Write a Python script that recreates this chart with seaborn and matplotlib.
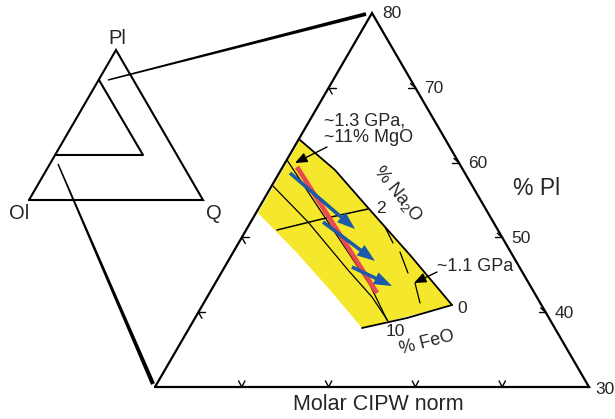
import numpy as np
import matplotlib
matplotlib.use("Agg")
import matplotlib.pyplot as plt
import seaborn as sns

sns.set_style("white")
plt.rcParams['font.family'] = ['Liberation Sans', 'DejaVu Sans']
plt.rcParams['mathtext.fontset'] = 'custom'
plt.rcParams['mathtext.rm'] = 'Liberation Sans'
plt.rcParams['mathtext.default'] = 'regular'

# --- schematic (pixel coordinates, y downward) ---
# small Ol-Pl-Q triangle and its inset
small_tri_x = [29, 116, 203, 29]
small_tri_y = [200, 50, 200, 200]
inset_x = [99, 143, 56]
inset_y = [80, 155, 155]
small_labels = ["Pl", "Ol", "Q"]
small_label_x = [117, 19, 214]
small_label_y = [39, 213, 213]

# big (expanded) triangle: bottom-left, bottom-right, apex
big_tri_x = [155, 589, 372, 155]
big_tri_y = [387, 387, 13, 387]

# ternary ticks (fraction along edge) and % Pl labels on right side
right_ticks = [0.2, 0.4, 0.6, 0.8]
pl_labels = ["70", "60", "50", "40"]
left_ticks = [0.2, 0.6, 0.8]
bottom_ticks = [0.2, 0.4, 0.6, 0.8]

# yellow field
field_x = [300, 335, 370, 410, 452, 362, 330, 297, 258]
field_y = [140, 170, 210, 255, 305, 328, 290, 253, 213]
top_edge_x = [300, 335, 370, 410, 452]
top_edge_y = [140, 170, 210, 255, 305]
bottom_edge_x = [362, 407, 452]
bottom_edge_y = [328, 318, 305]

# internal curves
curve1_x = [287, 320, 350, 370, 387]
curve1_y = [160, 210, 255, 285, 320]
curve2_x = [272, 308, 348, 372, 388]
curve2_y = [185, 222, 270, 297, 321]
na2o_x = [277, 322, 368]
na2o_y = [230, 219, 209]
dash_segments = [((385, 227), (393, 243)), ((400, 252), (408, 273)), ((415, 283), (420, 303))]

# red liquid line of descent and blue arrows
red_x = [297, 377]
red_y = [167, 293]
blue_tails = [(290, 173), (323, 222), (352, 267)]
blue_tips = [(355, 229), (375, 261), (392, 286)]

fig = plt.figure(figsize=(6.15, 4.19), dpi=100)
ax = fig.add_axes([0, 0, 1, 1])
ax.set_xlim(0, 615)
ax.set_ylim(419, 0)
ax.axis('off')


def taper(p0, p1, w0, w1):
    p0, p1 = np.array(p0, float), np.array(p1, float)
    d = p1 - p0
    n = np.array([-d[1], d[0]]) / np.hypot(*d)
    poly = np.array([p0 + n * w0 / 2, p1 + n * w1 / 2, p1 - n * w1 / 2, p0 - n * w0 / 2])
    ax.fill(poly[:, 0], poly[:, 1], color='black', lw=0)


# small triangle
ax.plot(small_tri_x, small_tri_y, color='black', lw=1.5, solid_joinstyle='miter')
ax.plot(inset_x, inset_y, color='black', lw=1.5)
for t, x, y in zip(small_labels, small_label_x, small_label_y):
    ax.text(x, y, t, fontsize=14.5, ha='center', va='center')

# connectors
taper((108, 80), (366, 14), 1.5, 3.8)
taper((58, 164), (153, 384), 1.5, 4.2)

# yellow field
ax.fill(field_x, field_y, color='#f5e82c', lw=0, zorder=1)
ax.plot(top_edge_x, top_edge_y, color='black', lw=1.3, zorder=3)
ax.plot(bottom_edge_x, bottom_edge_y, color='black', lw=1.3, zorder=3)
sns.lineplot(x=curve1_x, y=curve1_y, sort=False, color='black', lw=0.9, ax=ax, zorder=3)
sns.lineplot(x=curve2_x, y=curve2_y, sort=False, color='black', lw=0.9, ax=ax, zorder=3)
sns.lineplot(x=na2o_x, y=na2o_y, sort=False, color='black', lw=1.1, ax=ax, zorder=3)
for (a, b) in dash_segments:
    ax.plot([a[0], b[0]], [a[1], b[1]], color='black', lw=0.9, zorder=3)

# big triangle
ax.plot(big_tri_x, big_tri_y, color='black', lw=1.6, zorder=4, solid_joinstyle='miter')
bl = np.array([big_tri_x[0], big_tri_y[0]], float)
br = np.array([big_tri_x[1], big_tri_y[1]], float)
ap = np.array([big_tri_x[2], big_tri_y[2]], float)
L = 7
for f, lab in zip(right_ticks, pl_labels):
    p = ap + f * (br - ap)
    ax.plot([p[0], p[0] - L], [p[1], p[1]], color='black', lw=1, zorder=4)
    ax.plot([p[0], p[0] - 0.7 * L], [p[1], p[1] - 0.6 * L], color='black', lw=1, zorder=4)
    ax.text(p[0] + 9, p[1] + 1, lab, fontsize=12.5, ha='left', va='center')
for f in left_ticks:
    p = ap + f * (bl - ap)
    ax.plot([p[0], p[0] + L], [p[1], p[1]], color='black', lw=1, zorder=4)
    ax.plot([p[0], p[0] + 0.5 * L], [p[1], p[1] + 0.87 * L], color='black', lw=1, zorder=4)
for f in bottom_ticks:
    p = bl + f * (br - bl)
    ax.plot([p[0] - 0.45 * L, p[0], p[0] + 0.45 * L],
            [p[1] - 0.87 * L, p[1], p[1] - 0.87 * L], color='black', lw=1, zorder=4)
ax.text(ap[0] + 10, ap[1] + 1, "80", fontsize=12.5, ha='left', va='center')
ax.text(br[0] + 6, br[1] + 2, "30", fontsize=12.5, ha='left', va='center')

# red line and blue arrows
ax.plot(red_x, red_y, color='#ea4a4f', lw=3.4, solid_capstyle='butt', zorder=5)
for tail, tip in zip(blue_tails, blue_tips):
    ax.arrow(tail[0], tail[1], tip[0] - tail[0], tip[1] - tail[1], width=3.6,
             head_width=13, head_length=18, length_includes_head=True,
             color='#1d5aa8', lw=0, zorder=6)

# annotations
ax.annotate('', xy=(295, 163), xytext=(327, 147),
            arrowprops=dict(arrowstyle='-|>,head_length=0.6,head_width=0.25',
                            mutation_scale=12, lw=1, color='black', shrinkA=0, shrinkB=0), zorder=7)
ax.text(324, 129, "~1.3 GPa,\n~11% MgO", fontsize=13, ha='left', va='center', linespacing=1.0)
ax.annotate('', xy=(414, 283), xytext=(437, 272),
            arrowprops=dict(arrowstyle='-|>,head_length=0.6,head_width=0.25',
                            mutation_scale=12, lw=1, color='black', shrinkA=0, shrinkB=0), zorder=7)
ax.text(437, 266, "~1.1 GPa", fontsize=13, ha='left', va='center')

ax.text(398, 194, "% Na$_2$O", fontsize=13, ha='center', va='center', rotation=-51,
        rotation_mode='anchor')
ax.text(376, 208, "2", fontsize=12.5, ha='left', va='center')
ax.text(457, 308, "0", fontsize=12.5, ha='left', va='center')
ax.text(386, 331, "10", fontsize=12.5, ha='left', va='center')
ax.text(427, 343, "% FeO", fontsize=13, ha='center', va='center', rotation=14.5,
        rotation_mode='anchor')

ax.text(537, 188, "% Pl", fontsize=16.5, ha='center', va='center')
ax.text(378, 404, "Molar CIPW norm", fontsize=15.5, ha='center', va='center')

fig.savefig("out.png", dpi=100)
